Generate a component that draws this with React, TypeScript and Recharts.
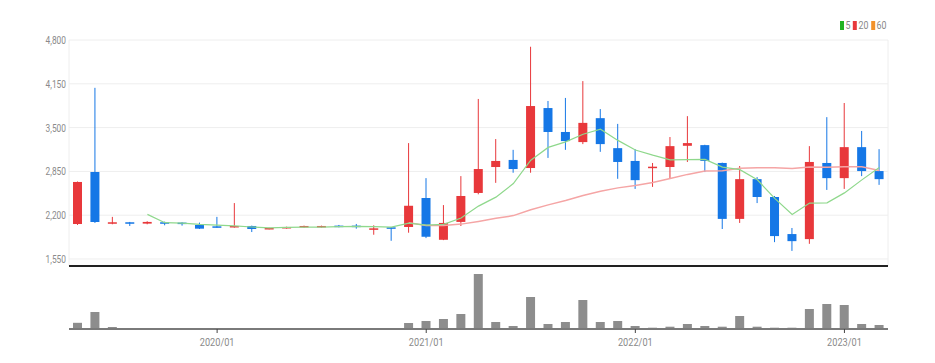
import {
  Bar,
  CartesianGrid,
  ComposedChart,
  Line,
  XAxis,
  YAxis,
} from "recharts";

const months = [
  "2019/05", "2019/06", "2019/07", "2019/08", "2019/09", "2019/10", "2019/11", "2019/12",
  "2020/01", "2020/02", "2020/03", "2020/04", "2020/05", "2020/06", "2020/07", "2020/08",
  "2020/09", "2020/10", "2020/11", "2020/12", "2021/01", "2021/02", "2021/03", "2021/04",
  "2021/05", "2021/06", "2021/07", "2021/08", "2021/09", "2021/10", "2021/11", "2021/12",
  "2022/01", "2022/02", "2022/03", "2022/04", "2022/05", "2022/06", "2022/07", "2022/08",
  "2022/09", "2022/10", "2022/11", "2022/12", "2023/01", "2023/02", "2023/03",
];

const opens = [
  2069, 2841, 2075, 2095, 2075, 2095, 2090, 2055, 2035, 2020, 2040, 1995, 2005, 2020, 2020, 2045,
  2045, 1990, 2020, 2025, 2455, 1835, 2100, 2530, 2915, 3020, 2900, 3790, 3435, 3285, 3640, 3195,
  3005, 2910, 2915, 3230, 3240, 2975, 2145, 2735, 2470, 1920, 1845, 2975, 2750, 3210, 2855,
];
const highs = [
  2700, 4090, 2175, 2100, 2110, 2105, 2095, 2090, 2175, 2380, 2045, 2015, 2030, 2045, 2045, 2055,
  2070, 2050, 2025, 3270, 2750, 2350, 2780, 3925, 3330, 3170, 4700, 3895, 3940, 4190, 3775, 3555,
  3180, 2975, 3360, 3670, 3245, 2980, 2930, 2765, 2485, 2010, 3225, 3655, 3865, 3450, 3180,
];
const lows = [
  2055, 2085, 2065, 2040, 2065, 2050, 2045, 1995, 2015, 2015, 1950, 1990, 2000, 2015, 2015, 2020,
  2000, 1910, 1820, 1940, 1860, 1830, 2040, 2510, 2680, 2830, 2830, 3050, 3170, 3255, 3140, 2740,
  2590, 2620, 2740, 2990, 2840, 1995, 2085, 2380, 1800, 1670, 1775, 2575, 2590, 2780, 2650,
];
const closes = [
  2693, 2099, 2095, 2075, 2100, 2075, 2070, 2000, 2020, 2040, 1995, 2010, 2025, 2040, 2040, 2030,
  2030, 2005, 2005, 2340, 1880, 2085, 2485, 2885, 3005, 2885, 3820, 3435, 3300, 3570, 3255, 2990,
  2720, 2920, 3225, 3270, 3005, 2145, 2735, 2470, 1890, 1815, 2990, 2750, 3210, 2855, 2735,
];
const volumes = [
  62000, 170000, 20000, 5000, 4000, 4000, 3000, 5000, 4000, 9000, 5000, 3000, 2000, 3000, 3000, 2000,
  3000, 4000, 7000, 60000, 80000, 100000, 150000, 550000, 70000, 30000, 320000, 50000, 70000, 290000, 70000, 80000,
  30000, 13000, 23000, 50000, 30000, 23000, 130000, 23000, 13000, 13000, 200000, 250000, 240000, 50000, 40000,
];

const priceTicks = [1550, 2200, 2850, 3500, 4150, 4800];
const yearTicks = ["2020/01", "2021/01", "2022/01", "2023/01"];
const legendNames = ["5", "20", "60"];
const legendColors = ["#22b322", "#e8383b", "#f39229"];

const UP = "#e8383b";
const DOWN = "#1577e6";
const FONT = "Roboto, 'Noto Sans', sans-serif";

const movingAvg = (vals: number[], n: number) =>
  vals.map((_, i) => {
    if (i < n - 1) return null;
    let s = 0;
    for (let k = i - n + 1; k <= i; k++) s += vals[k];
    return s / n;
  });

const ma5 = movingAvg(closes, 5);
const ma20 = movingAvg(closes, 20);

const data = months.map((date, i) => ({
  date,
  open: opens[i],
  high: highs[i],
  low: lows[i],
  close: closes[i],
  range: [lows[i], highs[i]],
  volume: volumes[i],
  ma5: ma5[i],
  ma20: ma20[i],
}));

const Candle = (props: any) => {
  const { x, width, payload } = props;
  let { y, height } = props;
  if (height < 0) {
    y = y + height;
    height = -height;
  }
  const { open, close, high, low } = payload;
  const per = height / (high - low);
  const yOf = (v: number) => y + (high - v) * per;
  const color = close >= open ? UP : DOWN;
  const top = yOf(Math.max(open, close));
  const bot = yOf(Math.min(open, close));
  const cx = x + width / 2;
  return (
    <g>
      <line x1={cx} x2={cx} y1={y} y2={y + height} stroke={color} strokeWidth={1} />
      <rect x={x} y={top} width={width} height={Math.max(bot - top, 1.5)} fill={color} />
    </g>
  );
};

// narrow-looking tick text (the original uses a condensed face)
const PriceTick = ({ x, y, payload }: any) => (
  <g transform={`translate(${x},${y})`}>
    <text
      transform="scale(0.76,1)"
      textAnchor="end"
      dy="0.36em"
      fill="#8a8a8a"
      fontSize={11}
      fontFamily={FONT}
    >
      {Number(payload.value).toLocaleString("en-US")}
    </text>
  </g>
);

const DateTick = ({ x, y, payload }: any) => (
  <g transform={`translate(${x},${y})`}>
    <text
      transform="scale(0.8,1)"
      textAnchor="middle"
      dy="0.75em"
      fill="#8a8a8a"
      fontSize={11.5}
      fontFamily={FONT}
    >
      {payload.value}
    </text>
  </g>
);

export default function App() {
  return (
    <div style={{ position: "absolute", left: 0, top: 0, width: 935, height: 363, background: "#fff" }}>
      <div
        style={{
          position: "absolute",
          left: 840,
          top: 19,
          display: "flex",
          alignItems: "center",
          fontFamily: FONT,
          fontSize: 11,
          color: "#888",
          transform: "scaleX(0.8)",
          transformOrigin: "left center",
        }}
      >
        {legendNames.map((n, i) => (
          <span key={n} style={{ display: "flex", alignItems: "center", marginRight: 3 }}>
            <span style={{ width: 5, height: 9, background: legendColors[i], marginRight: 2, display: "inline-block" }} />
            {n}
          </span>
        ))}
      </div>

      <ComposedChart
        width={935}
        height={267}
        data={data}
        margin={{ top: 40, right: 47, bottom: 0, left: 0 }}
      >
        <CartesianGrid stroke="#eeeeee" />
        <XAxis
          dataKey="date"
          ticks={yearTicks}
          interval={0}
          height={1}
          tick={false}
          tickLine={false}
          axisLine={{ stroke: "#222", strokeWidth: 2 }}
        />
        <YAxis
          domain={[1446, 4800]}
          ticks={priceTicks}
          interval={0}
          allowDataOverflow
          axisLine={false}
          tickLine={false}
          tickSize={0}
          tickMargin={3}
          width={69}
          tick={<PriceTick />}
        />
        <Bar dataKey="range" barSize={9} shape={<Candle />} isAnimationActive={false} />
        <Line
          dataKey="ma20"
          stroke="#f5a5a5"
          strokeWidth={1.5}
          dot={false}
          activeDot={false}
          isAnimationActive={false}
        />
        <Line
          dataKey="ma5"
          stroke="#8fd88c"
          strokeWidth={1.2}
          dot={false}
          activeDot={false}
          isAnimationActive={false}
        />
      </ComposedChart>

      <ComposedChart
        width={935}
        height={96}
        data={data}
        margin={{ top: 3, right: 47, bottom: 0, left: 69 }}
      >
        <XAxis
          dataKey="date"
          ticks={yearTicks}
          interval={0}
          height={34}
          axisLine={{ stroke: "#7a7a7a", strokeWidth: 2 }}
          tickLine={{ stroke: "#444" }}
          tickSize={4}
          tickMargin={4}
          tick={<DateTick />}
        />
        <YAxis hide domain={[0, 590000]} />
        <Bar dataKey="volume" barSize={9} fill="#8d8d8d" isAnimationActive={false} />
      </ComposedChart>
    </div>
  );
}
